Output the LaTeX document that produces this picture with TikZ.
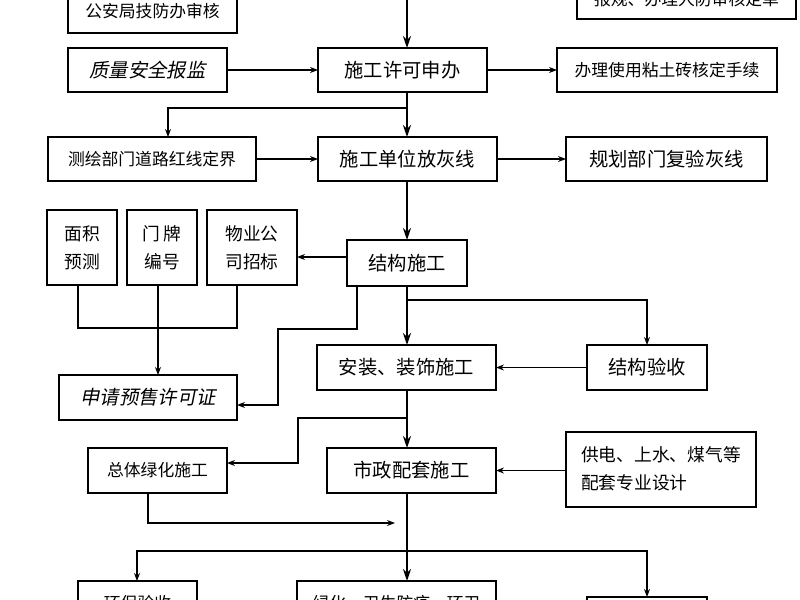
\documentclass[tikz,border=0pt]{standalone}
\usepackage{fontspec}
\setmainfont{Noto Sans CJK SC}
\newfontfamily\cjkit[FakeSlant=0.2]{Noto Sans CJK SC}
\usetikzlibrary{arrows.meta}
\tikzset{every picture/.style={line width=0.75pt}}
\tikzset{
  box/.style={draw,line width=1.1pt,inner sep=0pt,outer sep=0pt,font=\fontsize{14.5}{20}\selectfont,align=center},
  sm/.style={font=\fontsize{12.6}{20}\selectfont},
  md/.style={font=\fontsize{13.3}{21}\selectfont},
  arr/.style={-{Stealth[length=6pt,width=4.5pt]},line width=0.9pt},
  mainarr/.style={-{Stealth[length=9pt,width=6pt]},line width=2.2pt},
  ln/.style={line width=0.9pt}
}
% box from corner (x1,y1) to corner (x2,y2), in pixels
\newcommand\bx[7][]{\node[box,#1,minimum width={(#5-#3)*0.75pt},minimum height={(#6-#4)*0.75pt}] (#2) at ({(#3+#5)/2},{(#4+#6)/2}) {#7};}

\begin{document}
\begin{tikzpicture}[x=0.75pt,y=0.75pt,yscale=-1,xscale=1]
\useasboundingbox (0,0) rectangle (800,600);
\clip (0,0) rectangle (800,600);

%Boxes
\bx[sm]{gaj}{68}{-10}{237}{33}{公安局技防办审核}
\bx[sm]{rf}{577}{-20}{796}{19}{报规、办理人防审核定单}
\bx{zl}{68}{48}{227}{92}{\cjkit 质量安全报监}
\bx{xk}{318}{48}{487}{92}{施工许可申办}
\bx[sm]{nt}{557}{48}{777}{92}{办理使用粘土砖核定手续}
\bx[sm]{ch}{48}{137}{256}{181}{测绘部门道路红线定界}
\bx{fx}{318}{137}{497}{181}{施工单位放灰线}
\bx{gh}{566}{137}{767}{181}{规划部门复验灰线}
\bx[md]{mj}{47}{210}{117}{285}{面积\\预测}
\bx[md]{mp}{127}{210}{197}{285}{门 牌\\编号}
\bx[md]{wy}{207}{210}{297}{285}{物业公\\司招标}
\bx{jg}{347}{240}{467}{286}{结构施工}
\bx{az}{317}{345}{496}{390}{安装、装饰施工}
\bx{ys}{587}{345}{707}{390}{结构验收}
\bx{sq}{59}{375}{237}{420}{\cjkit 申请预售许可证}
\bx[sm]{lh}{88}{448}{227}{493}{总体绿化施工}
\bx{sz}{327}{448}{496}{493}{市政配套施工}
\bx[md]{gd}{566}{432}{756}{507}{\begin{tabular}{@{}l@{}}供电、上水、煤气等\\配套专业设计\end{tabular}}
\bx[sm]{hb}{78}{581}{197}{625}{环保验收}
\bx[sm]{ws}{297}{581}{496}{625}{绿化、卫生防疫、环卫}
\bx{rt}{587}{597}{707}{640}{}

%Main line
\coordinate (m) at (407,0);
\draw[mainarr] (407,-10) -- (xk.north -| m);
\draw[mainarr] (xk.south -| m) -- (fx.north -| m);
\draw[mainarr] (fx.south -| m) -- (jg.north -| m);
\draw[mainarr] (jg.south -| m) -- (az.north -| m);
\draw[mainarr] (az.south -| m) -- (sz.north -| m);
\draw[mainarr] (sz.south -| m) -- (ws.north -| m);

%Side arrows
\draw[arr] (zl) -- (xk);
\draw[arr] (xk) -- (nt);
\draw[arr] (407,108) -| (168,0 |- ch.north);
\draw[arr] (ch.east |- fx) -- (fx);
\draw[arr] (fx) -- (gh);
\draw[arr] (jg.west |- 0,257) -- (wy.east |- 0,257);
\draw[ln] (mj.south -| 78,0) -- (78,328) -| (wy.south -| 237,0);
\draw[arr] (mp.south -| 158,0) -- (sq.north -| 158,0);
\draw[arr] (jg.south -| 357,0) -- (357,329) -- (278,329) |- (sq.east |- 0,405);
\draw[arr] (407,300) -| (ys.north -| 647,0);
\draw[arr] (ys) -- (az);
\draw[arr] (407,418) -- (298,418) |- (lh.east |- 0,463);
\draw[arr] (gd.west |- sz) -- (sz);
\draw[arr] (lh.south -| 148,0) |- (395,523);
\draw[arr] (407,551) -| (hb.north -| 137,0);
\draw[arr] (407,551) -| (rt.north -| 647,0);
\end{tikzpicture}
\end{document}
